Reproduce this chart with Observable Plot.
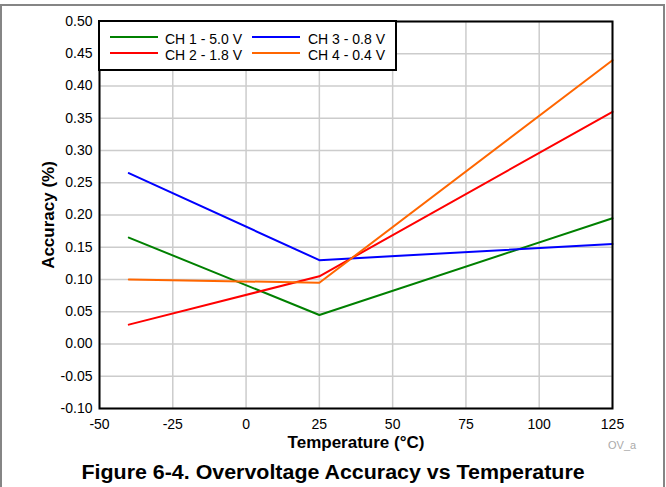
<!DOCTYPE html>
<html><head><meta charset="utf-8">
<script src="https://cdn.jsdelivr.net/npm/d3@7"></script>
<script src="https://cdn.jsdelivr.net/npm/@observablehq/plot@0.6"></script>
<style>
body{margin:0;background:#fff;font-family:"Liberation Sans",Arial,sans-serif;}
#wrap{position:relative;width:666px;height:487px;overflow:hidden;background:#fff;}
#border{position:absolute;left:0;top:4px;width:661px;height:500px;border:2px solid #858585;pointer-events:none;}
#chart{position:absolute;left:0;top:0;}
#legendBox{position:absolute;left:98px;top:20px;width:295px;height:47px;border:2px solid #000;background:#fff;}
.sw{position:absolute;height:2px;width:48px;}
.lt{position:absolute;font-size:14px;line-height:14px;color:#000;white-space:nowrap;}
#title{position:absolute;left:0;width:666px;top:462px;text-align:center;font-weight:bold;font-size:20px;line-height:20px;color:#000;transform:scaleX(1.07);transform-origin:332px 0;}
#code{position:absolute;left:608px;top:440px;font-size:11px;line-height:11px;color:#aaa;}
</style>
</head><body>
<div id="wrap">
  <div id="chart"></div>
  <div id="legendBox"></div>
  <div id="legend"></div>
  <div id="title"></div>
  <div id="code"></div>
  <div id="border"></div>
</div>
<script>
const temps = [-40, 25, 125];
const seriesNames = ["CH 1 - 5.0 V", "CH 2 - 1.8 V", "CH 3 - 0.8 V", "CH 4 - 0.4 V"];
const seriesColors = ["#008000", "#ff0000", "#0000ff", "#ff6600"];
const ch1 = [0.165, 0.045, 0.195];
const ch2 = [0.03, 0.105, 0.36];
const ch3 = [0.265, 0.13, 0.155];
const ch4 = [0.10, 0.095, 0.44];
const xTicks = [-50, -25, 0, 25, 50, 75, 100, 125];
const yTicks = [-0.10, -0.05, 0.00, 0.05, 0.10, 0.15, 0.20, 0.25, 0.30, 0.35, 0.40, 0.45, 0.50];
const xLabel = "Temperature (°C)";
const yLabel = "Accuracy (%)";
const titleText = "Figure 6-4. Overvoltage Accuracy vs Temperature";
const codeText = "OV_a";

const allSeries = [ch1, ch2, ch3, ch4];
const data = [];
allSeries.forEach((vals, i) => vals.forEach((v, j) => data.push({series: seriesNames[i], t: temps[j], v})));

const chart = Plot.plot({
  width: 666,
  height: 452,
  marginLeft: 99,
  marginRight: 54,
  marginTop: 21,
  marginBottom: 44,
  style: {fontFamily: '"Liberation Sans", Arial, sans-serif', fontSize: "14px", background: "transparent", color: "#000"},
  x: {domain: [-50, 125]},
  y: {domain: [-0.1, 0.5]},
  color: {domain: seriesNames, range: seriesColors},
  marks: [
    Plot.gridX(xTicks, {stroke: "#cccccc", strokeOpacity: 1, strokeWidth: 1.5}),
    Plot.gridY(yTicks, {stroke: "#cccccc", strokeOpacity: 1, strokeWidth: 1.5}),
    Plot.axisX(xTicks, {tickSize: 0, tickPadding: 11, tickFormat: d => String(d), label: null, fontSize: 14}),
    Plot.axisY(yTicks, {tickSize: 0, tickPadding: 7, tickFormat: d => d.toFixed(2), label: null, fontSize: 14}),
    Plot.line(data, {x: "t", y: "v", z: "series", stroke: "series", strokeWidth: 2}),
    Plot.frame({stroke: "#000", strokeWidth: 2}),
    Plot.text([xLabel], {text: d => d, frameAnchor: "bottom", textAnchor: "middle", lineAnchor: "middle", dy: 34, fontWeight: "bold", fontSize: 17}),
    Plot.text([yLabel], {text: d => d, frameAnchor: "left", textAnchor: "middle", lineAnchor: "middle", rotate: -90, dx: -51, fontWeight: "bold", fontSize: 17})
  ]
});
document.getElementById("chart").appendChild(chart);

// legend
const leg = document.getElementById("legend");
const cols = [{line: 110, text: 165}, {line: 252, text: 308}];
const rows = [{line: 36.3, text: 31.5}, {line: 52.3, text: 47.5}];
seriesNames.forEach((name, i) => {
  const c = cols[Math.floor(i / 2)], r = rows[i % 2];
  const sw = document.createElement("div");
  sw.className = "sw";
  sw.style.left = c.line + "px";
  sw.style.top = r.line + "px";
  sw.style.background = seriesColors[i];
  leg.appendChild(sw);
  const t = document.createElement("div");
  t.className = "lt";
  t.style.left = c.text + "px";
  t.style.top = r.text + "px";
  t.textContent = name;
  leg.appendChild(t);
});
document.getElementById("title").textContent = titleText;
document.getElementById("code").textContent = codeText;
</script>
</body></html>
